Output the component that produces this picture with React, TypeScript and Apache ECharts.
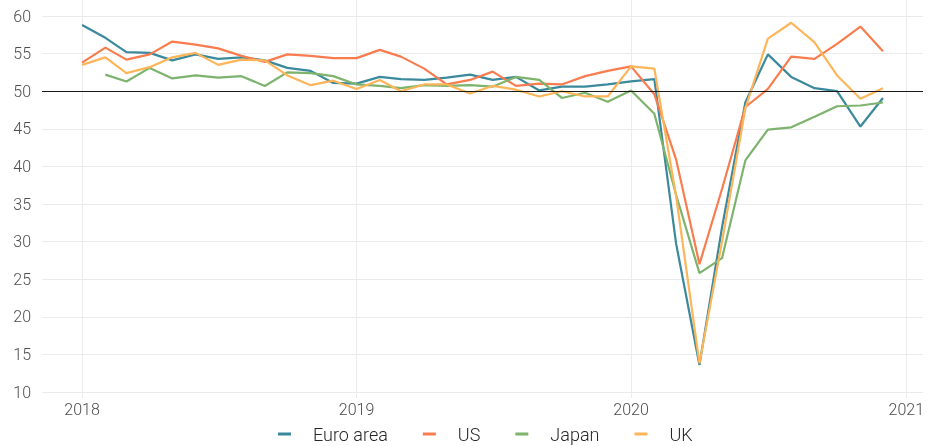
import React, { useEffect, useRef } from "react";
import * as echarts from "echarts";

const months = [
  "2018-01", "2018-02", "2018-03", "2018-04", "2018-05", "2018-06",
  "2018-07", "2018-08", "2018-09", "2018-10", "2018-11", "2018-12",
  "2019-01", "2019-02", "2019-03", "2019-04", "2019-05", "2019-06",
  "2019-07", "2019-08", "2019-09", "2019-10", "2019-11", "2019-12",
  "2020-01", "2020-02", "2020-03", "2020-04", "2020-05", "2020-06",
  "2020-07", "2020-08", "2020-09", "2020-10", "2020-11", "2020-12",
];

const euroArea = [
  58.8, 57.1, 55.2, 55.1, 54.1, 54.9, 54.3, 54.5, 54.1, 53.1, 52.7, 51.1,
  51.0, 51.9, 51.6, 51.5, 51.8, 52.2, 51.5, 51.9, 50.1, 50.6, 50.6, 50.9,
  51.3, 51.6, 29.7, 13.6, 31.9, 48.5, 54.9, 51.9, 50.4, 50.0, 45.3, 49.1,
];
const us = [
  53.8, 55.8, 54.2, 54.9, 56.6, 56.2, 55.7, 54.7, 53.9, 54.9, 54.7, 54.4,
  54.4, 55.5, 54.6, 53.0, 50.9, 51.5, 52.6, 50.7, 51.0, 50.9, 52.0, 52.7,
  53.3, 49.6, 40.9, 27.0, 37.0, 47.9, 50.3, 54.6, 54.3, 56.3, 58.6, 55.3,
];
const japan = [
  null, 52.2, 51.3, 53.1, 51.7, 52.1, 51.8, 52.0, 50.7, 52.5, 52.4, 52.0,
  50.9, 50.7, 50.4, 50.8, 50.7, 50.8, 50.6, 51.9, 51.5, 49.1, 49.8, 48.6,
  50.1, 47.0, 36.2, 25.8, 27.8, 40.8, 44.9, 45.2, 46.6, 48.0, 48.1, 48.5,
];
const uk = [
  53.5, 54.5, 52.4, 53.2, 54.5, 55.1, 53.5, 54.2, 54.1, 52.1, 50.8, 51.4,
  50.3, 51.5, 50.0, 50.9, 50.9, 49.7, 50.7, 50.2, 49.3, 50.0, 49.3, 49.3,
  53.3, 53.0, 36.0, 13.8, 30.0, 47.7, 57.0, 59.1, 56.5, 52.1, 49.0, 50.4,
];

const seriesNames = ["Euro area", "US", "Japan", "UK"];
const seriesValues = [euroArea, us, japan, uk];
const seriesColors = ["#3B899C", "#F97C4E", "#7DB36D", "#FDB55A"];

const yearTicks = ["2018-01", "2019-01", "2020-01", "2021-01"];
const referenceLevel = 50;

const toTs = (s: string) =>
  Date.UTC(parseInt(s.slice(0, 4), 10), parseInt(s.slice(5, 7), 10) - 1, 1);

const FONT = "Roboto";

export default function App() {
  const ref = useRef<HTMLDivElement>(null);

  useEffect(() => {
    if (!ref.current) return;
    const chart = echarts.init(ref.current, null, { renderer: "svg" });
    const first = toTs(months[0]);
    const last = toTs(months[months.length - 1]);
    const pad = (last - first) * 0.05;
    const xMin = first - pad;
    const xMax = last + pad;
    const yearVals = yearTicks.map(toTs);

    const series: any[] = seriesNames.map((name, si) => ({
      name,
      type: "line",
      xAxisIndex: 1,
      yAxisIndex: 1,
      showSymbol: false,
      symbol: "none",
      connectNulls: false,
      lineStyle: { width: 2.2, color: seriesColors[si] },
      itemStyle: { color: seriesColors[si] },
      data: months.map((m, i) => [
        toTs(m),
        seriesValues[si][i] == null ? "-" : seriesValues[si][i],
      ]),
    }));

    series.unshift({
      name: "ref",
      type: "line",
      xAxisIndex: 1,
      yAxisIndex: 1,
      data: [],
      markLine: {
        silent: true,
        symbol: ["none", "none"],
        label: { show: false },
        lineStyle: { color: "#1a1a1a", width: 1, type: "solid" },
        data: [{ yAxis: referenceLevel }],
      },
    });

    chart.setOption({
      animation: false,
      textStyle: { fontFamily: FONT },
      grid: [
        { left: 42, right: 7, top: 0, bottom: 48 },
        { left: 42, right: 7, top: 16, bottom: 54 },
      ],
      xAxis: [
        {
          gridIndex: 0,
          type: "value",
          min: xMin,
          max: xMax,
          axisLine: { show: false },
          axisTick: { show: false, customValues: yearVals },
          axisLabel: {
            customValues: yearVals,
            formatter: (v: number) => String(new Date(v).getUTCFullYear()),
            fontSize: 16,
            fontWeight: 300,
            fontFamily: FONT,
            color: "#4d4d4d",
            margin: 3,
          },
          splitLine: { show: true, lineStyle: { color: "#ebebeb", width: 1 } },
        },
        {
          gridIndex: 1,
          type: "value",
          min: xMin,
          max: xMax,
          show: false,
          splitLine: { show: false },
        },
      ],
      yAxis: [
        {
          gridIndex: 0,
          type: "value",
          min: 0,
          max: 1,
          show: false,
          splitLine: { show: false },
        },
        {
          gridIndex: 1,
          type: "value",
          min: 10,
          max: 60,
          interval: 5,
          axisLine: { show: false },
          axisTick: { show: false },
          axisLabel: {
            fontSize: 16,
            fontWeight: 300,
            fontFamily: FONT,
            color: "#4d4d4d",
            margin: 11,
          },
          splitLine: { show: true, lineStyle: { color: "#ebebeb", width: 1 } },
        },
      ],
      legend: {
        data: seriesNames,
        top: 420,
        left: 273,
        icon: "rect",
        itemWidth: 13,
        itemHeight: 3,
        itemGap: 35,
        textStyle: {
          fontSize: 18,
          fontWeight: 300,
          fontFamily: FONT,
          color: "#262626",
          padding: [0, 0, 0, 17],
        },
      },
      series,
    });

    return () => chart.dispose();
  }, []);

  return (
    <div
      ref={ref}
      style={{ position: "fixed", left: 0, top: 0, width: 930, height: 446 }}
    />
  );
}
